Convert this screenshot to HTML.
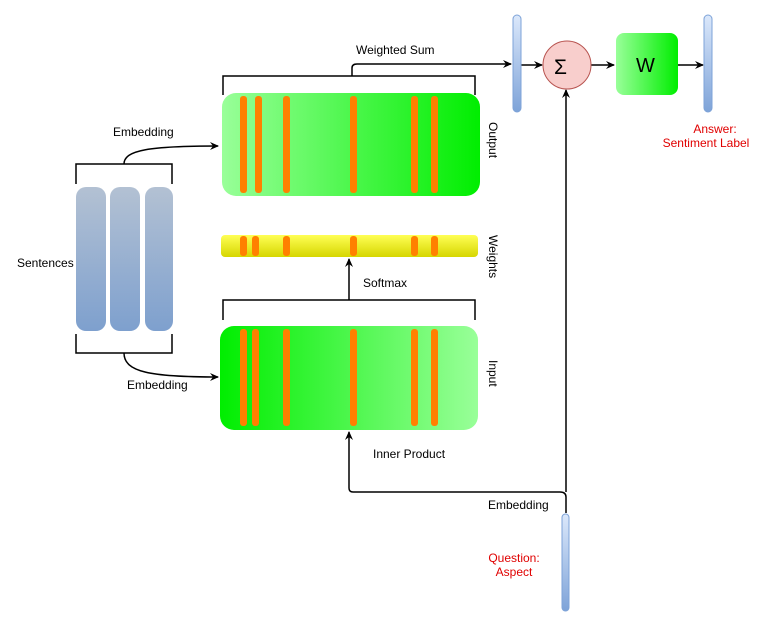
<!DOCTYPE html>
<html><head><meta charset="utf-8"><style>
html,body{margin:0;padding:0;background:#fff;}
svg{display:block;font-family:"Liberation Sans",sans-serif;}
</style></head><body>
<svg width="767" height="636" viewBox="0 0 767 636" xmlns="http://www.w3.org/2000/svg">
<defs>
<linearGradient id="gOut" x1="0" x2="1" y1="0" y2="0"><stop offset="0" stop-color="#99ff99"/><stop offset="1" stop-color="#00ee00"/></linearGradient>
<linearGradient id="gIn" x1="0" x2="1" y1="0" y2="0"><stop offset="0" stop-color="#00ee00"/><stop offset="1" stop-color="#99ff99"/></linearGradient>
<linearGradient id="gY" x1="0" x2="0" y1="0" y2="1"><stop offset="0" stop-color="#ffff55"/><stop offset="1" stop-color="#d6d600"/></linearGradient>
<linearGradient id="gB" x1="0" x2="0" y1="0" y2="1"><stop offset="0" stop-color="#b3c1d3"/><stop offset="1" stop-color="#7ea0ce"/></linearGradient>
<linearGradient id="gV" x1="0" x2="0" y1="0" y2="1"><stop offset="0" stop-color="#dbe8fb"/><stop offset="1" stop-color="#7ea3d8"/></linearGradient>
<marker id="ar" markerWidth="10" markerHeight="10" refX="8" refY="5" orient="auto" markerUnits="userSpaceOnUse"><path d="M0,1 L9,5 L0,9 L3,5 Z" fill="#000"/></marker>
</defs>
<g fill="none" stroke="#000" stroke-width="1.5">
<!-- sentence brackets -->
<path d="M76,184 V164 H172 V184"/>
<path d="M76,334 V353 H172 V334"/>
<path d="M124,164 C124,150 150,146 218,146" marker-end="url(#ar)"/>
<path d="M124,353 C124,372 150,377 218,377" marker-end="url(#ar)"/>
<!-- output bracket -->
<path d="M223,95 V76 H475 V95"/>
<path d="M352,76 V68 Q352,64 357,64 H511" marker-end="url(#ar)"/>
<!-- input bracket -->
<path d="M223,320 V300 H475 V320"/>
<path d="M349,300 V259" marker-end="url(#ar)"/>
<!-- inner product -->
<path d="M566,513 V497 Q566,492 560,492 H353 Q349,492 349,488 V432" marker-end="url(#ar)"/>
<path d="M566,492 V90" marker-end="url(#ar)"/>
<path d="M521,65 H542" marker-end="url(#ar)"/>
<path d="M591,65 H614" marker-end="url(#ar)"/>
<path d="M678,65 H703" marker-end="url(#ar)"/>
</g>
<!-- sentences -->
<rect x="76" y="187" width="30" height="144" rx="10" fill="url(#gB)"/>
<rect x="110" y="187" width="30" height="144" rx="10" fill="url(#gB)"/>
<rect x="145" y="187" width="28" height="144" rx="10" fill="url(#gB)"/>
<!-- output -->
<rect x="222" y="93" width="258" height="103" rx="14" fill="url(#gOut)"/>
<g fill="#ff8000">
<rect x="240" y="96" width="7" height="97" rx="3"/><rect x="255" y="96" width="7" height="97" rx="3"/><rect x="283" y="96" width="7" height="97" rx="3"/><rect x="350" y="96" width="7" height="97" rx="3"/><rect x="411" y="96" width="7" height="97" rx="3"/><rect x="431" y="96" width="7" height="97" rx="3"/>
</g>
<!-- weights -->
<rect x="221" y="235" width="257" height="22" rx="4" fill="url(#gY)"/>
<g fill="#ff8000">
<rect x="240" y="236" width="7" height="20" rx="3"/><rect x="252" y="236" width="7" height="20" rx="3"/><rect x="283" y="236" width="7" height="20" rx="3"/><rect x="350" y="236" width="7" height="20" rx="3"/><rect x="411" y="236" width="7" height="20" rx="3"/><rect x="431" y="236" width="7" height="20" rx="3"/>
</g>
<!-- input -->
<rect x="220" y="326" width="258" height="104" rx="14" fill="url(#gIn)"/>
<g fill="#ff8000">
<rect x="240" y="329" width="7" height="97" rx="3"/><rect x="252" y="329" width="7" height="97" rx="3"/><rect x="283" y="329" width="7" height="97" rx="3"/><rect x="350" y="329" width="7" height="97" rx="3"/><rect x="411" y="329" width="7" height="97" rx="3"/><rect x="431" y="329" width="7" height="97" rx="3"/>
</g>
<!-- vectors -->
<rect x="513" y="15" width="8" height="97" rx="4" fill="url(#gV)" stroke="#7ea3d8"/>
<rect x="704" y="15" width="8" height="97" rx="4" fill="url(#gV)" stroke="#7ea3d8"/>
<rect x="562" y="514" width="7" height="97" rx="3.5" fill="url(#gV)" stroke="#7ea3d8"/>
<circle cx="567" cy="65" r="24" fill="#f8cecc" stroke="#b85450"/>
<rect x="616" y="33" width="62" height="62" rx="8" fill="url(#gOut)"/>
<g font-size="12" fill="#000">
<text x="356" y="54">Weighted Sum</text>
<text x="113" y="136">Embedding</text>
<text x="127" y="389">Embedding</text>
<text x="17" y="267">Sentences</text>
<text x="363" y="287">Softmax</text>
<text x="373" y="458">Inner Product</text>
<text x="488" y="509">Embedding</text>
<text font-size="21" x="554" y="74">Σ</text>
<text font-size="20" x="636" y="72">W</text>
<text transform="translate(489,122) rotate(90)">Output</text>
<text transform="translate(489,235) rotate(90)">Weights</text>
<text transform="translate(489,360) rotate(90)">Input</text>
</g>
<g font-size="12" fill="#e00000" text-anchor="middle">
<text x="715" y="133">Answer:</text>
<text x="706" y="147">Sentiment Label</text>
<text x="514" y="562">Question:</text>
<text x="514" y="576">Aspect</text>
</g>
</svg>
</body></html>
